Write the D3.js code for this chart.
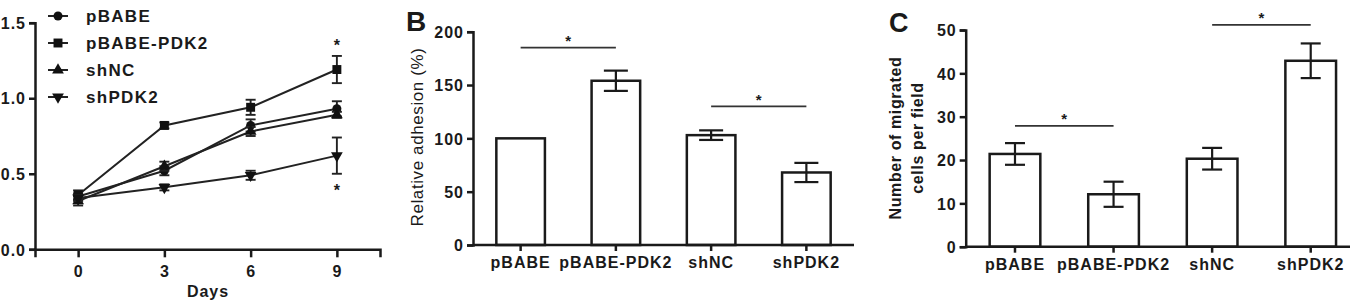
<!DOCTYPE html>
<html>
<head>
<meta charset="utf-8">
<script src="https://cdn.jsdelivr.net/npm/d3@7/dist/d3.min.js"></script>
<style>
html,body{margin:0;padding:0;background:#fff;}
svg{display:block;}
text{font-family:'Liberation Sans',Arial,sans-serif;fill:#1a1a1a;}
</style>
</head>
<body>
<svg id="chart" width="1350" height="300"></svg>
<script>
// ---------- Data ----------
// Panel A: growth curves
const days = [0, 3, 6, 9];
const dayTicks = [0, 3, 6, 9];
const aTicks = [0, 0.5, 1.0, 1.5];
const seriesNames = ["pBABE", "pBABE-PDK2", "shNC", "shPDK2"];
const pBABE      = [0.35, 0.52, 0.82, 0.93];
const pBABE_PDK2 = [0.36, 0.82, 0.94, 1.19];
const shNC       = [0.32, 0.55, 0.78, 0.89];
const shPDK2     = [0.34, 0.41, 0.49, 0.62];
const pBABE_err      = [0.02, 0.03, 0.04, 0.05];
const pBABE_PDK2_err = [0.03, 0.02, 0.05, 0.09];
const shNC_err       = [0.03, 0.03, 0.03, 0.02];
const shPDK2_err     = [0.02, 0.02, 0.03, 0.12];
const aStars = [{day: 9, value: 1.37}, {day: 9, value: 0.41}];

// Panel B: adhesion
const groups = ["pBABE", "pBABE-PDK2", "shNC", "shPDK2"];
const adhesion = [100, 154, 103, 68];
const adhesionErr = [0, 9.5, 4.5, 9];
const bTicks = [0, 50, 100, 150, 200];
const bSig = [{from: 0, to: 1, value: 185}, {from: 2, to: 3, value: 130}];

// Panel C: migration
const migrated = [21.4, 12.1, 20.3, 42.9];
const migratedErr = [2.5, 2.9, 2.5, 4.0];
const cTicks = [0, 10, 20, 30, 40, 50];
const cSig = [{from: 0, to: 1, value: 27.9}, {from: 2, to: 3, value: 51.2}];

// ---------- Drawing ----------
const svg = d3.select("#chart");
const ink = "#1a1a1a";
const tickFont = {size: 16, weight: "bold", ls: 1};

function styleAxis(g, strokeW) {
  g.select(".domain").attr("stroke", ink).attr("stroke-width", strokeW);
  g.selectAll(".tick line").attr("stroke", ink).attr("stroke-width", strokeW);
  g.selectAll(".tick text")
    .attr("fill", ink)
    .style("font-size", tickFont.size + "px")
    .style("font-weight", tickFont.weight)
    .style("letter-spacing", tickFont.ls + "px")
    .style("font-family", "'Liberation Sans',Arial,sans-serif");
}

function star(x, yCenter, size) {
  svg.append("text")
    .attr("x", x).attr("y", yCenter + size * 0.55)
    .attr("text-anchor", "middle")
    .style("font-size", size + "px").style("font-weight", "bold")
    .text("*");
}

// ===== Panel A =====
const xA = d3.scaleLinear().domain([-1.5, 10.5]).range([35, 380]);
const yA = d3.scaleLinear().domain([0, 1.5]).range([249.3, 22.7]);

const gAy = svg.append("g").attr("transform", `translate(${xA.range()[0]},0)`)
  .call(d3.axisLeft(yA).tickValues(aTicks).tickFormat(d3.format(".1f")).tickSizeOuter(0).tickSize(6).tickPadding(3));
styleAxis(gAy, 2.5);
gAy.selectAll(".tick text").attr("dy", "0.36em");

const gAx = svg.append("g").attr("transform", `translate(0,${yA(0)})`)
  .call(d3.axisBottom(xA).tickValues(dayTicks).tickFormat(d3.format("d")).tickSizeOuter(0).tickSize(8).tickPadding(8));
styleAxis(gAx, 2.5);

svg.append("text").attr("x", 208).attr("y", 297).attr("text-anchor", "middle")
  .style("font-size", "16px").style("font-weight", "bold").style("letter-spacing", "1px").text("Days");

const symbols = [
  d3.symbol().type(d3.symbolCircle).size(64),
  d3.symbol().type(d3.symbolSquare).size(80),
  d3.symbol().type(d3.symbolTriangle).size(60),
  d3.symbol().type(d3.symbolTriangle).size(60)
];
const rotations = [0, 0, 0, 180];
const seriesVals = [pBABE, pBABE_PDK2, shNC, shPDK2];
const seriesErr = [pBABE_err, pBABE_PDK2_err, shNC_err, shPDK2_err];

const line = d3.line().x((d, i) => xA(days[i])).y(d => yA(d));
seriesVals.forEach((vals, s) => {
  svg.append("path").datum(vals).attr("d", line)
    .attr("fill", "none").attr("stroke", "#222").attr("stroke-width", 2);
  // error bars
  vals.forEach((v, i) => {
    const e = seriesErr[s][i];
    const x = xA(days[i]);
    const g = svg.append("g").attr("stroke", "#222").attr("stroke-width", 1.9);
    g.append("line").attr("x1", x).attr("x2", x).attr("y1", yA(v - e)).attr("y2", yA(v + e));
    g.append("line").attr("x1", x - 5).attr("x2", x + 5).attr("y1", yA(v - e)).attr("y2", yA(v - e));
    g.append("line").attr("x1", x - 5).attr("x2", x + 5).attr("y1", yA(v + e)).attr("y2", yA(v + e));
  });
  vals.forEach((v, i) => {
    svg.append("path").attr("d", symbols[s]())
      .attr("transform", `translate(${xA(days[i])},${yA(v)}) rotate(${rotations[s]})`)
      .attr("fill", "#111");
  });
});
aStars.forEach(s => star(xA(s.day), yA(s.value), 16));

// legend
seriesNames.forEach((name, s) => {
  const y = 16 + s * 27;
  svg.append("line").attr("x1", 48).attr("x2", 68).attr("y1", y).attr("y2", y)
    .attr("stroke", "#222").attr("stroke-width", 2);
  svg.append("path").attr("d", symbols[s]())
    .attr("transform", `translate(58,${y}) rotate(${rotations[s]})`).attr("fill", "#111");
  svg.append("text").attr("x", 86).attr("y", y + 6)
    .style("font-size", "17px").style("font-weight", "bold").style("letter-spacing", "1.3px")
    .text(name);
});

// ===== Bar panel helper =====
function barPanel(opts) {
  const x = d3.scaleBand().domain(groups).range(opts.xRange)
    .paddingInner(opts.pad).paddingOuter(opts.pad / 2);
  const y = d3.scaleLinear().domain(opts.yDomain).range(opts.yRange);

  // bars
  svg.append("g").selectAll("rect").data(opts.values).join("rect")
    .attr("x", (d, i) => x(groups[i])).attr("width", x.bandwidth())
    .attr("y", d => y(d)).attr("height", d => y(0) - y(d))
    .attr("fill", "#fff").attr("stroke", ink).attr("stroke-width", 2.5);

  // error bars
  opts.values.forEach((v, i) => {
    const e = opts.errors[i];
    if (!e) return;
    const cx = x(groups[i]) + x.bandwidth() / 2;
    const hw = opts.cap / 2;
    const g = svg.append("g").attr("stroke", ink).attr("stroke-width", 2.2);
    g.append("line").attr("x1", cx).attr("x2", cx).attr("y1", y(v - e)).attr("y2", y(v + e));
    g.append("line").attr("x1", cx - hw).attr("x2", cx + hw).attr("y1", y(v + e)).attr("y2", y(v + e));
    g.append("line").attr("x1", cx - hw).attr("x2", cx + hw).attr("y1", y(v - e)).attr("y2", y(v - e));
  });

  // axes
  const gy = svg.append("g").attr("transform", `translate(${opts.xRange[0]},0)`)
    .call(d3.axisLeft(y).tickValues(opts.ticks).tickSizeOuter(0).tickSize(6).tickPadding(3));
  styleAxis(gy, 2.5);
  gy.selectAll(".tick text").attr("dy", "0.36em");

  const gx = svg.append("g").attr("transform", `translate(0,${y(0)})`)
    .call(d3.axisBottom(x).tickSizeOuter(0).tickSize(6).tickPadding(6));
  styleAxis(gx, 2.5);
  gx.select(".domain").attr("d", `M${opts.xRange[0]},0H${opts.axisEnd}`);

  // significance brackets
  opts.sig.forEach(s => {
    const x1 = x(groups[s.from]) + x.bandwidth() / 2;
    const x2 = x(groups[s.to]) + x.bandwidth() / 2;
    svg.append("line").attr("x1", x1).attr("x2", x2).attr("y1", y(s.value)).attr("y2", y(s.value))
      .attr("stroke", "#333").attr("stroke-width", 1.8);
    star((x1 + x2) / 2, y(s.value) - 10, 15);
  });
}

// ===== Panel B =====
barPanel({
  xRange: [473, 854], axisEnd: 854, pad: 0.49,
  yDomain: [0, 200], yRange: [245, 31.7],
  values: adhesion, errors: adhesionErr, ticks: bTicks, sig: bSig, cap: 24
});
svg.append("text").attr("transform", "translate(423,137) rotate(-90)")
  .attr("text-anchor", "middle")
  .style("font-size", "17px").style("letter-spacing", "0.6px")
  .text("Relative adhesion (%)");
svg.append("text").attr("x", 406).attr("y", 31)
  .style("font-size", "28px").style("font-weight", "bold").text("B");

// ===== Panel C =====
barPanel({
  xRange: [965.7, 1360], axisEnd: 1360, pad: 0.486,
  yDomain: [0, 50], yRange: [246.7, 30],
  values: migrated, errors: migratedErr, ticks: cTicks, sig: cSig, cap: 20
});
const cLabel = svg.append("text").attr("transform", "translate(907,138) rotate(-90)")
  .attr("text-anchor", "middle")
  .style("font-size", "16px").style("font-weight", "bold").style("letter-spacing", "0.6px");
cLabel.append("tspan").attr("x", 0).attr("dy", "-0.35em").text("Number of migrated");
cLabel.append("tspan").attr("x", 0).attr("dy", "1.35em").text("cells per field");
svg.append("text").attr("x", 889).attr("y", 32)
  .style("font-size", "27px").style("font-weight", "bold").text("C");
</script>
</body>
</html>
